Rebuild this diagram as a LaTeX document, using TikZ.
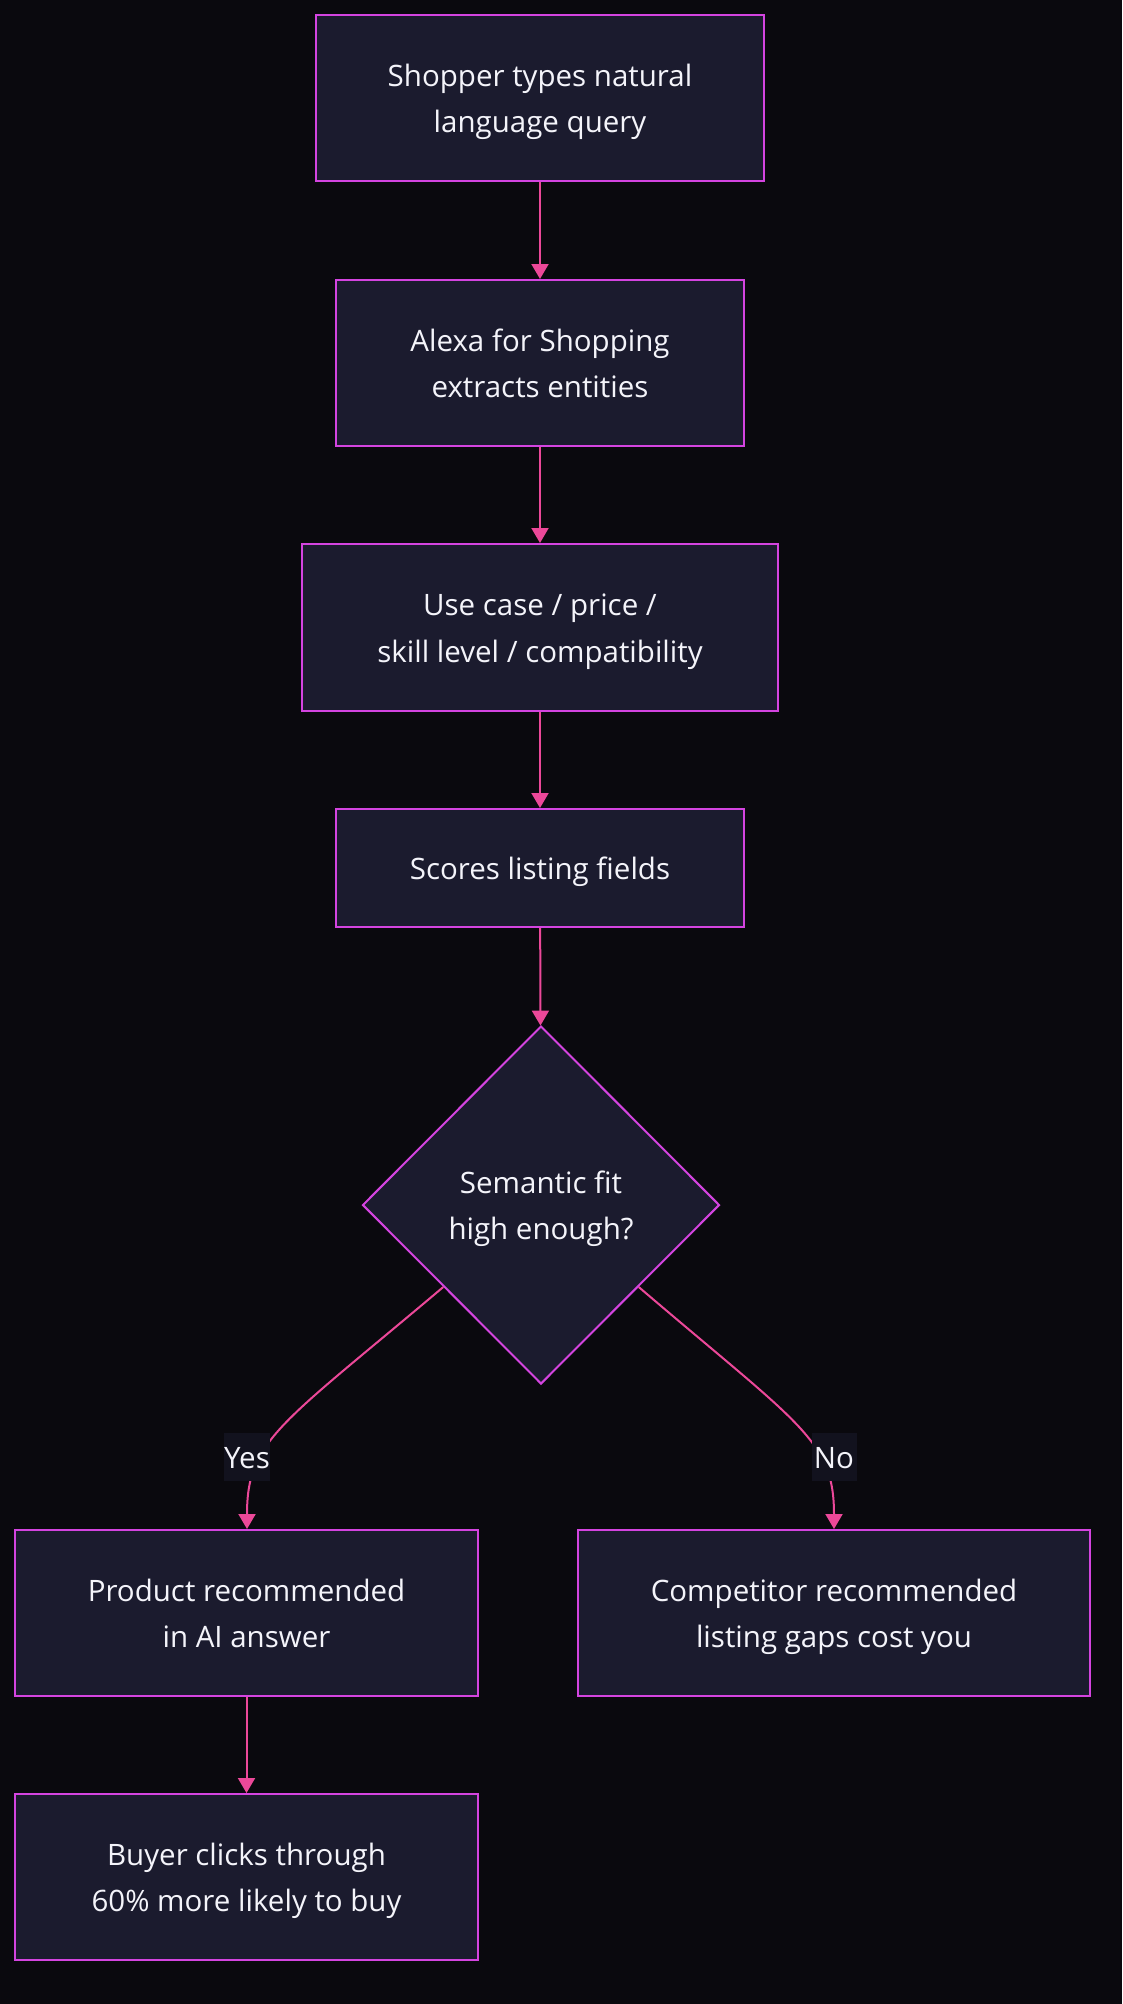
\documentclass[tikz,border=0pt]{standalone}
\usepackage{fontspec}
\setmainfont{Open Sans}
\usetikzlibrary{arrows.meta,shapes.geometric}
\definecolor{bgcol}{HTML}{0A090E}
\definecolor{boxfill}{HTML}{1B1B2E}
\definecolor{boxline}{HTML}{D444E0}
\definecolor{arrowcol}{HTML}{EC4899}
\definecolor{labelbg}{HTML}{12121E}
\definecolor{txtcol}{HTML}{F4F4FA}
\begin{document}
\begin{tikzpicture}[x=1pt,y=-1pt,
		font=\fontsize{29.5}{46.5}\selectfont, text=txtcol,
		stepbox/.style={draw=boxline, line width=2pt, fill=boxfill, align=center, inner sep=0pt, text height=69.5pt, text depth=0pt},
		oneline/.style={text height=23pt},
		decision/.style={diamond, aspect=1, draw=boxline, line width=2pt, fill=boxfill, align=center, inner sep=0pt, text height=69.5pt, text depth=0pt, minimum width=357, minimum height=358},
		flow/.style={draw=arrowcol, line width=2pt, -{Triangle[length=15pt,width=17pt]}},
		edgelabel/.style={fill=labelbg, inner sep=0pt, minimum width=45, minimum height=48}]
	\fill[bgcol] (0,0) rectangle (1122,2004);
	\useasboundingbox (0,0) rectangle (1122,2004);
	\node[stepbox, minimum width=448, minimum height=166] (query) at (540,98) {Shopper types natural\\language query};
	\node[stepbox, minimum width=408, minimum height=166] (alexa) at (540,363) {Alexa for Shopping\\extracts entities};
	\node[stepbox, minimum width=476, minimum height=167] (usecase) at (540,627.5) {Use case / price /\\skill level / compatibility};
	\node[stepbox, oneline, minimum width=408, minimum height=118] (scores) at (540,868) {Scores listing fields};
	\node[decision] (fit) at (541,1205) {Semantic fit\\high enough?};
	\node[stepbox, minimum width=463, minimum height=166] (recommended) at (246.5,1613) {Product recommended\\in AI answer};
	\node[stepbox, minimum width=512, minimum height=166] (competitor) at (834,1613) {Competitor recommended\\listing gaps cost you};
	\node[stepbox, minimum width=463, minimum height=166] (buyer) at (246.5,1877) {Buyer clicks through\\60\% more likely to buy};
	\draw[flow] (query) -- (alexa);
	\draw[flow] (alexa) -- (usecase);
	\draw[flow] (usecase) -- (scores);
	\draw[flow] (scores) -- (fit);
	\draw[flow] (fit.220) .. controls (280,1425) and (247,1440) .. (recommended.north -| 247,0);
	\draw[flow] (fit.320) .. controls (800,1425) and (834,1440) .. (competitor.north);
	\draw[flow] (recommended) -- (buyer);
	% edge labels
	\node[edgelabel, oneline, text depth=0pt] (yes) at (247,1457) {Yes};
	\node[edgelabel, oneline, text depth=0pt] (no) at (834,1457) {No};
\end{tikzpicture}
\end{document}
